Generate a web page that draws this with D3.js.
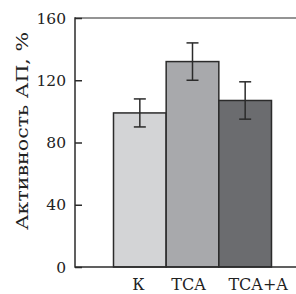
<!DOCTYPE html>
<html>
<head>
<meta charset="utf-8">
<script src="https://cdn.jsdelivr.net/npm/d3@7.9.0/dist/d3.min.js"></script>
<style>
  html, body { margin: 0; padding: 0; background: #fff; }
  svg { display: block; }
</style>
</head>
<body>
<svg id="chart" width="296" height="294"></svg>
<script>
// groups and values
const groups = ['К', 'TCA', 'TCA+A'];
const means = [99, 132, 107];
const errors = [9, 12, 12];
const fills = ['#d3d4d6', '#a8a9ac', '#6b6c6f'];
const yTicks = [0, 40, 80, 120, 160];

const FONT = "'DejaVu Serif', serif";
const labelShift = [-1.5, -4, 13]; // category labels are not quite centred in the original

const svg = d3.select('#chart');

const x = d3.scaleBand().domain(groups).range([113.5, 271.5]).padding(0);
const y = d3.scaleLinear().domain([0, 160]).range([267, 18]);

const left = 75;
const right = 300;

// top frame line (grey)
svg.append('line')
  .attr('x1', left).attr('x2', right)
  .attr('y1', y(160)).attr('y2', y(160))
  .attr('stroke', '#707070').attr('stroke-width', 1.5);

// bars
svg.selectAll('rect.bar')
  .data(groups)
  .enter()
  .append('rect')
  .attr('class', 'bar')
  .attr('x', d => x(d))
  .attr('y', (d, i) => y(means[i]))
  .attr('width', x.bandwidth())
  .attr('height', (d, i) => y(0) - y(means[i]))
  .attr('fill', (d, i) => fills[i])
  .attr('stroke', '#2b2b2b')
  .attr('stroke-width', 1.5);

// error bars
const err = svg.selectAll('g.err')
  .data(groups)
  .enter()
  .append('g')
  .attr('class', 'err')
  .attr('stroke', '#2b2b2b')
  .attr('stroke-width', 1.5);

err.append('line')
  .attr('x1', d => x(d) + x.bandwidth() / 2)
  .attr('x2', d => x(d) + x.bandwidth() / 2)
  .attr('y1', (d, i) => y(means[i] + errors[i]))
  .attr('y2', (d, i) => y(means[i] - errors[i]));

[1, -1].forEach(s => {
  err.append('line')
    .attr('x1', d => x(d) + x.bandwidth() / 2 - 6)
    .attr('x2', d => x(d) + x.bandwidth() / 2 + 6)
    .attr('y1', (d, i) => y(means[i] + s * errors[i]))
    .attr('y2', (d, i) => y(means[i] + s * errors[i]));
});

// left axis, ticks drawn inward
const yAxis = svg.append('g')
  .attr('transform', `translate(${left},0)`)
  .call(d3.axisRight(y).tickValues(yTicks).tickSize(7).tickFormat(''));
yAxis.select('.domain').remove();
yAxis.selectAll('line').attr('stroke', '#2b2b2b').attr('stroke-width', 1.5);

svg.append('line')
  .attr('x1', left).attr('x2', left)
  .attr('y1', y(160) - 0.75).attr('y2', y(0) + 0.75)
  .attr('stroke', '#2b2b2b').attr('stroke-width', 1.5);

// bottom line
svg.append('line')
  .attr('x1', left).attr('x2', right)
  .attr('y1', y(0)).attr('y2', y(0))
  .attr('stroke', '#2b2b2b').attr('stroke-width', 1.5);

// tick labels
svg.selectAll('text.ytick')
  .data(yTicks)
  .enter()
  .append('text')
  .attr('class', 'ytick')
  .attr('x', 66)
  .attr('y', d => y(d))
  .attr('dy', '0.36em')
  .attr('text-anchor', 'end')
  .attr('font-family', FONT)
  .attr('font-size', 15.5)
  .attr('fill', '#222')
  .text(d => d);

svg.selectAll('text.xlab')
  .data(groups)
  .enter()
  .append('text')
  .attr('class', 'xlab')
  .attr('x', (d, i) => x(d) + x.bandwidth() / 2 + labelShift[i])
  .attr('y', 290)
  .attr('text-anchor', 'middle')
  .attr('font-family', FONT)
  .attr('font-size', 16)
  .attr('fill', '#222')
  .text(d => d);

// y label
svg.append('text')
  .attr('transform', 'translate(28,131) rotate(-90)')
  .attr('text-anchor', 'middle')
  .attr('font-family', FONT)
  .attr('font-size', 17)
  .attr('textLength', 198)
  .attr('lengthAdjust', 'spacingAndGlyphs')
  .attr('fill', '#222')
  .text('Активность АП, %');
</script>
</body>
</html>
